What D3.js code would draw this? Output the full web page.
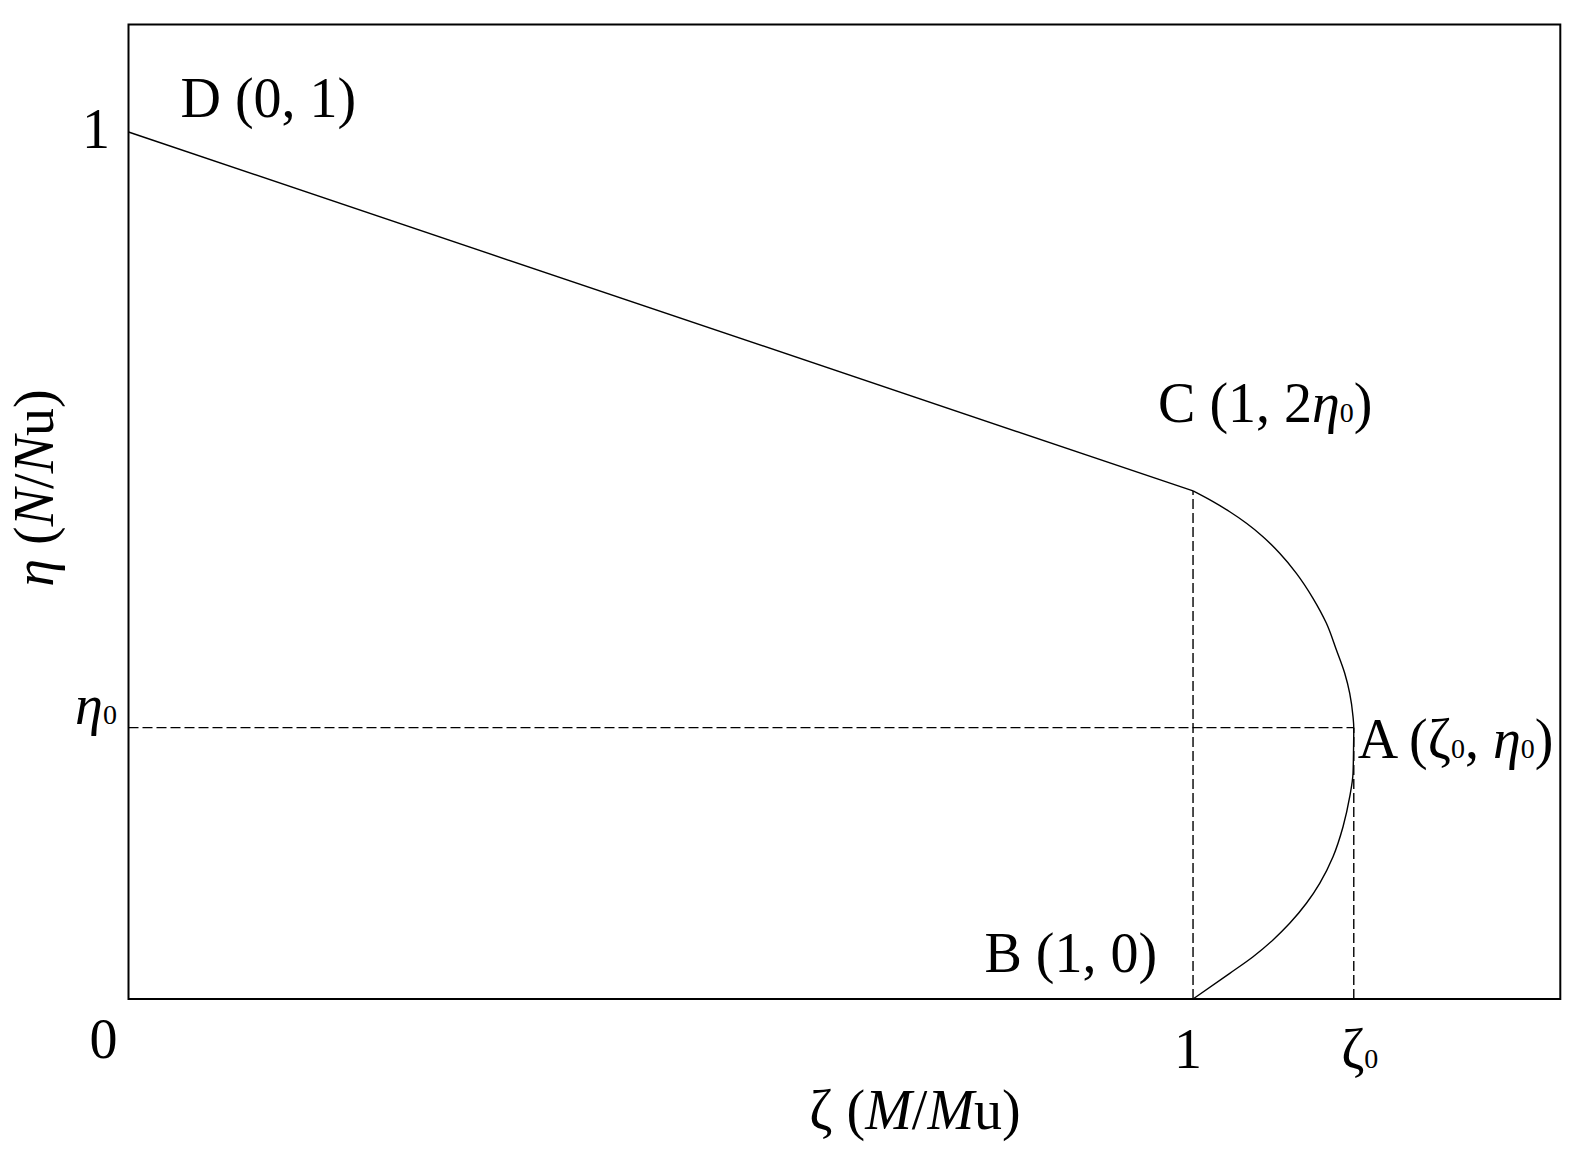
<!DOCTYPE html>
<html>
<head>
<meta charset="utf-8">
<script src="https://cdn.jsdelivr.net/npm/d3@7"></script>
<style>
  body { margin: 0; background: #fff; }
  svg text { font-family: "Liberation Serif", "Times New Roman", serif; fill: #000; }
</style>
</head>
<body>
<svg width="1582" height="1168"></svg>
<script>
// values (zeta = M/Mu, eta = N/Nu)
var zeta0 = 1.151,
    eta0 = 0.313,
    etaC = 0.586;

var xDomain = [0, 1.345],
    yDomain = [0, 1.124];

// straight part D -> C
var lineZeta = [0, 1],
    lineEta = [1, etaC];

// curved part C -> A -> B (eta falls all the way down)
var arcZeta = [1.0, 1.0188, 1.0345, 1.0502, 1.0657, 1.0814, 1.0971, 1.1127, 1.1253, 1.1347, 1.1425, 1.1472, 1.1503, 1.151,
               1.1508, 1.1503, 1.1472, 1.1409, 1.1315, 1.119, 1.1065, 1.0908, 1.0751, 1.0564, 1.0345, 1.0];
var arcEta  = [0.586, 0.5736, 0.562, 0.5487, 0.5332, 0.5141, 0.491, 0.4622, 0.4333, 0.4025, 0.3757, 0.3526, 0.3256, 0.313,
               0.29, 0.2603, 0.2333, 0.1987, 0.1641, 0.1334, 0.1104, 0.0873, 0.0681, 0.0488, 0.0296, 0];

var svg = d3.select("svg");

var x = d3.scaleLinear().domain(xDomain).range([128.5, 1560.3]);
var y = d3.scaleLinear().domain(yDomain).range([999, 24.5]);

// frame
svg.append("rect")
    .attr("x", x(xDomain[0])).attr("y", y(yDomain[1]))
    .attr("width", x(xDomain[1]) - x(xDomain[0]))
    .attr("height", y(yDomain[0]) - y(yDomain[1]))
    .attr("fill", "none").attr("stroke", "#000").attr("stroke-width", 2);

// dashed guides
var guides = [
    [[0, eta0], [zeta0, eta0]],
    [[1, 0], [1, etaC]],
    [[zeta0, 0], [zeta0, eta0]]
];
svg.append("g").selectAll("line")
    .data(guides)
    .enter().append("line")
    .attr("x1", function(d) { return x(d[0][0]); })
    .attr("y1", function(d) { return y(d[0][1]); })
    .attr("x2", function(d) { return x(d[1][0]); })
    .attr("y2", function(d) { return y(d[1][1]); })
    .attr("stroke", "#000").attr("stroke-width", 1.4)
    .attr("stroke-dasharray", "10,4");

var line = d3.line()
    .x(function(d) { return x(d[0]); })
    .y(function(d) { return y(d[1]); });

svg.append("path")
    .attr("d", line(d3.zip(lineZeta, lineEta)))
    .attr("fill", "none").attr("stroke", "#000").attr("stroke-width", 1.4);

svg.append("path")
    .attr("d", line.curve(d3.curveMonotoneY)(d3.zip(arcZeta, arcEta).reverse()))
    .attr("fill", "none").attr("stroke", "#000").attr("stroke-width", 1.4);

// rich text helper: segments with italic / subscript parts
function richText(g, px, py, anchor, parts) {
    var t = g.append("text")
        .attr("x", px).attr("y", py)
        .attr("text-anchor", anchor)
        .attr("font-size", 56);
    parts.forEach(function(p) {
        var s = t.append("tspan").text(p.t);
        if (p.i) s.attr("font-style", "italic");
        if (p.sub) s.attr("font-size", 28);
    });
    return t;
}

var labels = svg.append("g");

// point labels
var points = [
    {z: 0, e: 1, dx: 52, dy: -15, anchor: "start", parts: [{t: "D (0, 1)"}]},
    {z: 1, e: etaC, dx: -35, dy: -69, anchor: "start", parts: [{t: "C (1, 2"}, {t: "η", i: true}, {t: "0", sub: true}, {t: ")"}]},
    {z: zeta0, e: eta0, dx: 4, dy: 30, anchor: "start", parts: [{t: "A (ζ"}, {t: "0", sub: true}, {t: ", "}, {t: "η", i: true}, {t: "0", sub: true}, {t: ")"}]},
    {z: 1, e: 0, dx: -36, dy: -27, anchor: "end", parts: [{t: "B (1, 0)"}]}
];
points.forEach(function(p) {
    richText(labels, x(p.z) + p.dx, y(p.e) + p.dy, p.anchor, p.parts);
});

// tick labels
var xTicks = [
    {v: 1, dx: -5, parts: [{t: "1"}]},
    {v: zeta0, dx: 6, parts: [{t: "ζ"}, {t: "0", sub: true}]}
];
xTicks.forEach(function(d) {
    richText(labels, x(d.v) + d.dx, 1068, "middle", d.parts);
});
richText(labels, x(0) - 25, 1058, "middle", [{t: "0"}]);

var yTicks = [
    {v: 1, dy: 16, parts: [{t: "1"}]},
    {v: eta0, dy: -4, parts: [{t: "η", i: true}, {t: "0", sub: true}]}
];
yTicks.forEach(function(d) {
    richText(labels, 96, y(d.v) + d.dy, "middle", d.parts);
});

// axis titles
richText(labels, 915, 1129, "middle",
    [{t: "ζ ("}, {t: "M", i: true}, {t: "/"}, {t: "M", i: true}, {t: "u)"}]);

richText(labels, 0, 0, "middle",
    [{t: "η", i: true}, {t: " ("}, {t: "N", i: true}, {t: "/"}, {t: "N", i: true}, {t: "u)"}])
    .attr("transform", "translate(53,488) rotate(-90)");
</script>
</body>
</html>
